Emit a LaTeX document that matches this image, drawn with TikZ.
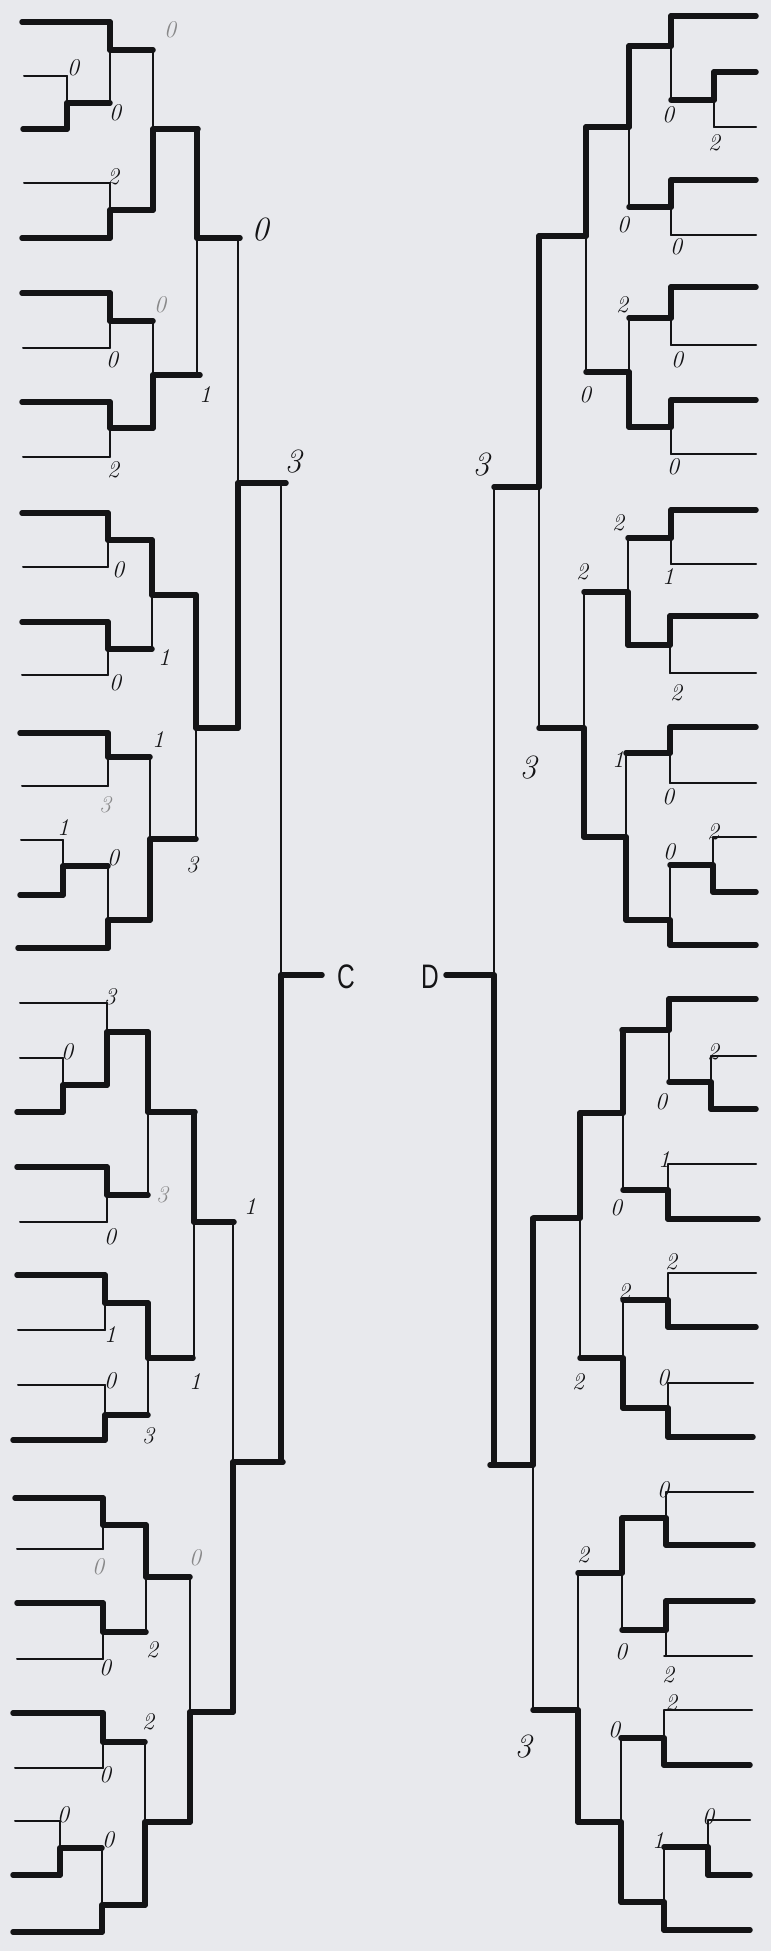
\documentclass[tikz,border=0pt]{standalone}
\usepackage{fontspec}
\newfontfamily\cdfont{Liberation Sans}
\definecolor{paper}{RGB}{232,233,237}
\definecolor{ink}{RGB}{20,20,22}
\tikzset{
 win/.style={draw=ink, line width=5.5pt, line cap=round, line join=round},
 lose/.style={draw=ink, line width=2pt, line cap=round},
 lbl/.style={font=\fontsize{24}{24}\selectfont\itshape, text=ink, inner sep=0pt},
 biglbl/.style={font=\fontsize{34}{34}\selectfont\itshape},
 faint/.style={text=ink!50},
 cdlbl/.style={font=\fontsize{34}{34}\selectfont\cdfont, text=ink, inner sep=0pt}
}
% leaf: x1, x2, y, style
\newcommand\bleaf[4]{\draw[#4] (#1,#3) -- (#2,#3);}
% match: x, ytop, ybot, yout, xnext, winner (t/b)
\newcommand\bmatch[6]{%
  \if t#6
    \draw[lose] (#1,#4) -- (#1,#3);
    \draw[win] (#1,#2) -- (#1,#4);
  \else
    \draw[lose] (#1,#2) -- (#1,#4);
    \draw[win] (#1,#4) -- (#1,#3);
  \fi
  \draw[win] (#1,#4) -- (#5,#4);}
\newcommand\lab[5][]{\node[lbl,#1] (#2) at (#3,#4) {#5};}
\begin{document}
\begin{tikzpicture}[x=1pt,y=-1pt]
\fill[paper] (0,0) rectangle (771,1951);
\useasboundingbox (0,0) rectangle (771,1951);

% ---------------- LEFT leaves ----------------
\bleaf{22}{110}{22}{win}
\bleaf{24}{67}{76}{lose}
\bleaf{23}{67}{129}{win}
\bleaf{24}{110}{183}{lose}
\bleaf{22}{110}{238}{win}
\bleaf{22}{110}{293}{win}
\bleaf{23}{110}{348}{lose}
\bleaf{22}{110}{402}{win}
\bleaf{23}{110}{457}{lose}
\bleaf{22}{108}{513}{win}
\bleaf{23}{108}{567}{lose}
\bleaf{22}{108}{622}{win}
\bleaf{22}{108}{675}{lose}
\bleaf{20}{108}{733}{win}
\bleaf{22}{108}{786}{lose}
\bleaf{21}{63}{840}{lose}
\bleaf{20}{63}{895}{win}
\bleaf{18}{108}{948}{win}
\bleaf{20}{107}{1003}{lose}
\bleaf{20}{63}{1058}{lose}
\bleaf{17}{63}{1112}{win}
\bleaf{17}{107}{1167}{win}
\bleaf{20}{107}{1222}{lose}
\bleaf{17}{105}{1275}{win}
\bleaf{18}{105}{1330}{lose}
\bleaf{18}{105}{1385}{lose}
\bleaf{13}{105}{1440}{win}
\bleaf{15}{103}{1498}{win}
\bleaf{17}{103}{1549}{lose}
\bleaf{17}{103}{1603}{win}
\bleaf{17}{103}{1659}{lose}
\bleaf{13}{103}{1713}{win}
\bleaf{15}{103}{1768}{lose}
\bleaf{15}{60}{1821}{lose}
\bleaf{13}{60}{1875}{win}
\bleaf{13}{102}{1932}{win}

% ---------------- LEFT matches ----------------
\bmatch{67}{76}{129}{103}{110}{b}
\bmatch{110}{22}{103}{50}{153}{t}
\bmatch{110}{183}{238}{210}{153}{b}
\bmatch{153}{50}{210}{129}{198}{b}
\bmatch{110}{293}{348}{321}{153}{t}
\bmatch{110}{402}{457}{428}{153}{t}
\bmatch{153}{321}{428}{375}{200}{b}
\bmatch{197}{129}{375}{238}{240}{t}
\bmatch{108}{513}{567}{540}{152}{t}
\bmatch{108}{622}{675}{649}{152}{t}
\bmatch{152}{540}{649}{595}{196}{t}
\bmatch{108}{733}{786}{757}{150}{t}
\bmatch{63}{840}{895}{866}{108}{b}
\bmatch{108}{866}{948}{920}{150}{b}
\bmatch{150}{757}{920}{839}{196}{b}
\bmatch{196}{595}{839}{728}{238}{t}
\bmatch{238}{238}{728}{483}{286}{b}
\bmatch{107}{1003}{1085}{1032}{148}{b}
\bmatch{63}{1058}{1112}{1085}{107}{b}
\bmatch{107}{1167}{1222}{1195}{148}{t}
\bmatch{148}{1032}{1195}{1112}{195}{t}
\bmatch{105}{1275}{1330}{1303}{148}{t}
\bmatch{105}{1385}{1440}{1415}{148}{b}
\bmatch{148}{1303}{1415}{1358}{193}{t}
\bmatch{194}{1112}{1358}{1222}{234}{t}
\bmatch{103}{1498}{1549}{1525}{146}{t}
\bmatch{103}{1603}{1659}{1632}{146}{t}
\bmatch{146}{1525}{1632}{1577}{190}{t}
\bmatch{103}{1713}{1768}{1742}{145}{t}
\bmatch{60}{1821}{1875}{1848}{102}{b}
\bmatch{102}{1848}{1932}{1905}{145}{b}
\bmatch{145}{1742}{1905}{1822}{190}{b}
\bmatch{190}{1577}{1822}{1712}{233}{b}
\bmatch{233}{1222}{1712}{1462}{283}{b}
\bmatch{281}{483}{1462}{975}{322}{b}

% ---------------- RIGHT leaves ----------------
\bleaf{671}{756}{16}{win}
\bleaf{714}{756}{72}{win}
\bleaf{714}{756}{127}{lose}
\bleaf{671}{756}{180}{win}
\bleaf{671}{756}{235}{lose}
\bleaf{671}{756}{287}{win}
\bleaf{671}{756}{345}{lose}
\bleaf{671}{756}{400}{win}
\bleaf{671}{756}{454}{lose}
\bleaf{671}{756}{510}{win}
\bleaf{671}{756}{564}{lose}
\bleaf{670}{756}{616}{win}
\bleaf{670}{756}{673}{lose}
\bleaf{670}{756}{727}{win}
\bleaf{670}{756}{783}{lose}
\bleaf{713}{756}{837}{lose}
\bleaf{713}{756}{892}{win}
\bleaf{670}{756}{945}{win}
\bleaf{669}{756}{999}{win}
\bleaf{711}{756}{1056}{lose}
\bleaf{711}{756}{1109}{win}
\bleaf{668}{756}{1164}{lose}
\bleaf{668}{758}{1219}{win}
\bleaf{668}{756}{1273}{lose}
\bleaf{668}{756}{1327}{win}
\bleaf{668}{753}{1383}{lose}
\bleaf{668}{753}{1437}{win}
\bleaf{666}{753}{1492}{lose}
\bleaf{666}{753}{1545}{win}
\bleaf{666}{753}{1601}{win}
\bleaf{664}{752}{1656}{lose}
\bleaf{664}{752}{1710}{lose}
\bleaf{664}{750}{1765}{win}
\bleaf{708}{750}{1820}{lose}
\bleaf{708}{750}{1875}{win}
\bleaf{664}{750}{1930}{win}

% ---------------- RIGHT matches ----------------
\bmatch{714}{72}{127}{100}{671}{t}
\bmatch{671}{16}{100}{46}{629}{t}
\bmatch{671}{180}{235}{207}{629}{t}
\bmatch{629}{46}{207}{127}{586}{t}
\bmatch{671}{287}{345}{318}{629}{t}
\bmatch{671}{400}{454}{427}{629}{t}
\bmatch{629}{318}{427}{372}{586}{b}
\bmatch{586}{127}{372}{236}{539}{t}
\bmatch{671}{510}{564}{538}{628}{t}
\bmatch{670}{616}{673}{645}{628}{t}
\bmatch{628}{538}{645}{592}{584}{b}
\bmatch{670}{727}{783}{753}{626}{t}
\bmatch{713}{837}{892}{865}{670}{b}
\bmatch{670}{865}{945}{920}{626}{b}
\bmatch{626}{753}{920}{837}{584}{b}
\bmatch{584}{592}{837}{728}{539}{b}
\bmatch{539}{236}{728}{487}{494}{t}
\bmatch{711}{1056}{1109}{1082}{669}{b}
\bmatch{669}{999}{1082}{1030}{622}{t}
\bmatch{668}{1164}{1219}{1190}{623}{b}
\bmatch{623}{1030}{1190}{1113}{580}{t}
\bmatch{668}{1273}{1327}{1300}{623}{b}
\bmatch{668}{1383}{1437}{1408}{623}{b}
\bmatch{623}{1300}{1408}{1358}{580}{b}
\bmatch{580}{1113}{1358}{1218}{534}{t}
\bmatch{666}{1492}{1545}{1518}{622}{b}
\bmatch{666}{1601}{1656}{1630}{622}{t}
\bmatch{622}{1518}{1630}{1573}{578}{t}
\bmatch{664}{1710}{1765}{1738}{621}{b}
\bmatch{708}{1820}{1875}{1847}{664}{b}
\bmatch{664}{1847}{1930}{1902}{621}{b}
\bmatch{621}{1738}{1902}{1822}{578}{b}
\bmatch{578}{1573}{1822}{1710}{533}{b}
\bmatch{533}{1218}{1710}{1465}{490}{t}
\bmatch{494}{487}{1465}{975}{446}{b}

% ---------------- LEFT labels ----------------
\lab[faint]{la1}{170}{30}{0}
\lab{la2}{73}{68}{0}
\lab{la3}{115}{113}{0}
\lab{la4}{113}{177}{2}
\lab[biglbl]{la5}{260}{230}{0}
\lab[faint]{la6}{160}{305}{0}
\lab{la7}{112}{360}{0}
\lab{la8}{205}{395}{1}
\lab{la9}{113}{470}{2}
\lab[biglbl]{la10}{293}{462}{3}
\lab{la11}{118}{570}{0}
\lab{la12}{164}{658}{1}
\lab{la13}{115}{683}{0}
\lab{la14}{158}{740}{1}
\lab[faint]{la15}{105}{805}{3}
\lab{la16}{63}{828}{1}
\lab{la17}{113}{858}{0}
\lab{la18}{192}{865}{3}
\lab{la19}{110}{997}{3}
\lab{la20}{67}{1052}{0}
\lab[faint]{la21}{162}{1195}{3}
\lab{la22}{110}{1237}{0}
\lab{la23}{250}{1207}{1}
\lab{la24}{110}{1335}{1}
\lab{la25}{110}{1381}{0}
\lab{la26}{195}{1382}{1}
\lab{la27}{148}{1436}{3}
\lab[faint]{la28}{98}{1567}{0}
\lab[faint]{la29}{195}{1558}{0}
\lab{la30}{152}{1650}{2}
\lab{la31}{105}{1668}{0}
\lab{la32}{148}{1722}{2}
\lab{la33}{105}{1775}{0}
\lab{la34}{63}{1815}{0}
\lab{la35}{108}{1840}{0}

% ---------------- RIGHT labels ----------------
\lab{ra1}{668}{115}{0}
\lab{ra2}{714}{143}{2}
\lab{ra3}{623}{225}{0}
\lab{ra4}{676}{247}{0}
\lab{ra5}{622}{305}{2}
\lab{ra6}{677}{360}{0}
\lab{ra7}{585}{395}{0}
\lab{ra8}{673}{467}{0}
\lab[biglbl]{ra9}{481}{465}{3}
\lab{ra10}{618}{523}{2}
\lab{ra11}{582}{572}{2}
\lab{ra12}{668}{577}{1}
\lab{ra13}{676}{693}{2}
\lab{ra14}{618}{760}{1}
\lab[biglbl]{ra15}{528}{768}{3}
\lab{ra16}{668}{797}{0}
\lab{ra17}{713}{832}{2}
\lab{ra18}{669}{852}{0}
\lab{ra19}{713}{1052}{2}
\lab{ra20}{661}{1102}{0}
\lab{ra21}{664}{1160}{1}
\lab{ra22}{616}{1208}{0}
\lab{ra23}{671}{1262}{2}
\lab{ra24}{624}{1292}{2}
\lab{ra25}{578}{1382}{2}
\lab{ra26}{663}{1378}{0}
\lab{ra27}{663}{1490}{0}
\lab{ra28}{583}{1555}{2}
\lab{ra29}{621}{1652}{0}
\lab{ra30}{668}{1675}{2}
\lab{ra31}{671}{1703}{2}
\lab[biglbl]{ra32}{523}{1747}{3}
\lab{ra33}{614}{1730}{0}
\lab{ra34}{708}{1817}{0}
\lab{ra35}{658}{1840}{1}

% ---------------- C / D ----------------
\node[cdlbl] (C) at (346,977) {\scalebox{0.72}[1]{C}};
\node[cdlbl] (D) at (430,977) {\scalebox{0.72}[1]{D}};
\end{tikzpicture}
\end{document}
